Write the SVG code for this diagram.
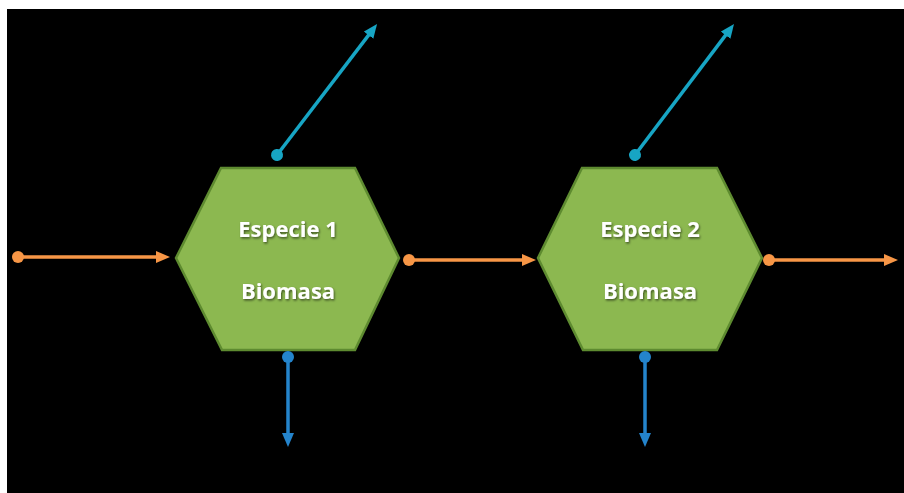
<svg xmlns="http://www.w3.org/2000/svg" width="904" height="493" viewBox="0 0 904 493">
  <defs>
    <style>
      .hex { fill: #8CB850; stroke: #5E8B30; stroke-width: 2.5; }
      .lbl { font-family: "Open Sans", "Liberation Sans", sans-serif; font-weight: bold; font-size: 22px; fill: #FFFFFF; text-anchor: middle; filter: url(#shadow); }
      .orange { stroke: #F79646; stroke-width: 3.5; fill: none; }
      .cyan { stroke: #17A5C4; stroke-width: 3.5; fill: none; }
      .blue { stroke: #2484CC; stroke-width: 3.5; fill: none; }
    </style>
    <filter id="shadow" x="-20%" y="-40%" width="140%" height="180%">
      <feDropShadow dx="1" dy="1.5" stdDeviation="1" flood-color="#000000" flood-opacity="0.55"/>
    </filter>
    <marker id="arrO" markerUnits="userSpaceOnUse" markerWidth="16" markerHeight="14" refX="7" refY="6" orient="auto">
      <path d="M0,0 L14,6 L0,12 z" fill="#F79646"/>
    </marker>
    <marker id="dotO" markerUnits="userSpaceOnUse" markerWidth="14" markerHeight="14" refX="7" refY="7" orient="auto">
      <circle cx="7" cy="7" r="6" fill="#F79646"/>
    </marker>
    <marker id="arrC" markerUnits="userSpaceOnUse" markerWidth="16" markerHeight="14" refX="7" refY="6" orient="auto">
      <path d="M0,0 L14,6 L0,12 z" fill="#17A5C4"/>
    </marker>
    <marker id="dotC" markerUnits="userSpaceOnUse" markerWidth="14" markerHeight="14" refX="7" refY="7" orient="auto">
      <circle cx="7" cy="7" r="6" fill="#17A5C4"/>
    </marker>
    <marker id="arrB" markerUnits="userSpaceOnUse" markerWidth="16" markerHeight="14" refX="7" refY="6" orient="auto">
      <path d="M0,0 L14,6 L0,12 z" fill="#2484CC"/>
    </marker>
    <marker id="dotB" markerUnits="userSpaceOnUse" markerWidth="14" markerHeight="14" refX="7" refY="7" orient="auto">
      <circle cx="7" cy="7" r="6" fill="#2484CC"/>
    </marker>
  </defs>
  <rect x="0" y="0" width="904" height="493" fill="#FFFFFF"/>
  <rect x="7" y="9" width="897" height="484" fill="#000000"/>

  <g id="especie1">
    <polygon class="hex" points="221,168 355,168 399,258 355,350 222,350 176,258"/>
    <text class="lbl" x="288" y="237">Especie 1</text>
    <text class="lbl" x="288" y="299">Biomasa</text>
  </g>
  <g id="especie2">
    <polygon class="hex" points="582,168 717,168 762,258 717,350 583,350 538,258"/>
    <text class="lbl" x="650" y="237">Especie 2</text>
    <text class="lbl" x="650" y="299">Biomasa</text>
  </g>

  <g id="connectors">
    <line class="orange" x1="18" y1="257" x2="163" y2="257" marker-start="url(#dotO)" marker-end="url(#arrO)"/>
    <line class="orange" x1="409" y1="260" x2="529" y2="260" marker-start="url(#dotO)" marker-end="url(#arrO)"/>
    <line class="orange" x1="769" y1="260" x2="891" y2="260" marker-start="url(#dotO)" marker-end="url(#arrO)"/>
    <line class="cyan" x1="277" y1="155" x2="372.8" y2="29.6" marker-start="url(#dotC)" marker-end="url(#arrC)"/>
    <line class="cyan" x1="635" y1="155" x2="729.8" y2="29.6" marker-start="url(#dotC)" marker-end="url(#arrC)"/>
    <line class="blue" x1="288" y1="357" x2="288" y2="440" marker-start="url(#dotB)" marker-end="url(#arrB)"/>
    <line class="blue" x1="645" y1="357" x2="645" y2="440" marker-start="url(#dotB)" marker-end="url(#arrB)"/>
  </g>
</svg>
